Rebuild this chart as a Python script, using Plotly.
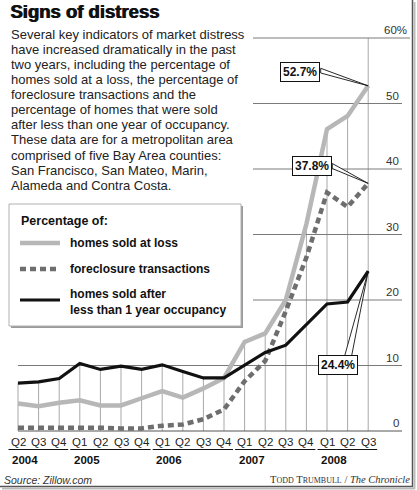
import plotly.graph_objects as go

# ---------------- data ----------------
quarters = ["Q2", "Q3", "Q4", "Q1", "Q2", "Q3", "Q4", "Q1", "Q2", "Q3", "Q4",
            "Q1", "Q2", "Q3", "Q4", "Q1", "Q2", "Q3"]
years = ["2004", "2005", "2006", "2007", "2008"]
year_start = [0, 3, 7, 11, 15]          # index of first quarter of each year
year_end = [2, 6, 10, 14, 17]

homes_sold_at_loss = [4.2, 3.8, 4.3, 4.7, 3.9, 3.9, 5.0, 6.1, 5.1, 6.5, 8.1,
                      13.6, 14.9, 20.0, 31.6, 46.1, 48.1, 52.7]
foreclosure_transactions = [0.5, 0.5, 0.6, 0.6, 0.5, 0.4, 0.4, 0.8, 1.0, 1.8, 3.3,
                            7.6, 10.7, 18.3, 26.5, 36.4, 34.2, 37.8]
sold_within_1yr = [7.3, 7.5, 8.0, 10.3, 9.4, 9.9, 9.4, 10.1, 9.1, 8.1, 8.1,
                   10.1, 12.0, 13.1, 16.2, 19.4, 19.7, 24.4]

y_ticks = [0, 10, 20, 30, 40, 50, 60]
y_tick_labels = ["0", "10", "20", "30", "40", "50", "60%"]

title = "Signs of distress"
body_lines = [
    "Several key indicators of market distress",
    "have increased dramatically in the past",
    "two years, including the percentage of",
    "homes sold at a loss, the percentage of",
    "foreclosure transactions and the",
    "percentage of homes that were sold",
    "after less than one year of occupancy.",
    "These data are for a metropolitan area",
    "comprised of five Bay Area counties:",
    "San Francisco, San Mateo, Marin,",
    "Alameda and Contra Costa.",
]
legend_title = "Percentage of:"
series_names = ["homes sold at loss", "foreclosure transactions",
                "homes sold after<br>less than 1 year occupancy"]

# ---------------- geometry (pixel <-> data) ----------------
W, H = 417, 490
X0, DX = 18.0, 20.6     # px of first quarter, px per quarter
Y0, DY = 431.0, 6.55    # px of 0%, px per 1%

def px2x(px):
    return (px - X0) / DX

def py2y(py):
    return (Y0 - py) / DY

def ppx(px):
    return px / W

def ppy(py):
    return 1 - py / H

xs = list(range(len(quarters)))
FONT = "Liberation Sans, Arial, Helvetica, sans-serif"

GRAY = "#b7b7b7"
DASH = "#6e6e6e"
BLACK = "#111111"

fig = go.Figure()

fig.add_trace(go.Scatter(x=xs, y=homes_sold_at_loss, mode="lines",
                         line=dict(color=GRAY, width=4.5), name=series_names[0],
                         hoverinfo="skip"))
fig.add_trace(go.Scatter(x=xs, y=foreclosure_transactions, mode="lines",
                         line=dict(color=DASH, width=4.5, dash="6px,4px"),
                         name=series_names[1], hoverinfo="skip"))
fig.add_trace(go.Scatter(x=xs, y=sold_within_1yr, mode="lines",
                         line=dict(color=BLACK, width=3.2), name=series_names[2],
                         hoverinfo="skip"))

shapes = []
annotations = []

# vertical gridlines: from 0 up to top data line (last one to the top tick)
for i in xs:
    top = max(homes_sold_at_loss[i], foreclosure_transactions[i], sold_within_1yr[i])
    if i == xs[-1]:
        top = y_ticks[-1]
    shapes.append(dict(type="line", xref="x", yref="y", x0=i, x1=i, y0=0, y1=top,
                       line=dict(color="#a8a8a8", width=1), layer="below"))

# horizontal gridlines
for v in y_ticks:
    left = px2x(18) if v <= 10 else px2x(253)
    right = px2x(410) if v == y_ticks[-1] else px2x(402)
    shapes.append(dict(type="line", xref="x", yref="y", x0=left, x1=right, y0=v, y1=v,
                       line=dict(color="#7a7a7a" if v else "#555555", width=1.2 if v == 0 else 1),
                       layer="below"))

# y tick labels (right side, above lines)
for v, lab in zip(y_ticks, y_tick_labels):
    annotations.append(dict(xref="paper", yref="y", x=ppx(409 if "%" in lab else 401),
                            y=v + 7.6 / DY, text=lab, showarrow=False, xanchor="right",
                            yanchor="middle",
                            font=dict(family=FONT, size=11.5, color="#333")))

# x tick labels
for i, q in enumerate(quarters):
    annotations.append(dict(xref="x", yref="paper", x=i, y=ppy(442), text=q,
                            showarrow=False, xanchor="center", yanchor="middle",
                            font=dict(family=FONT, size=11.5, color="#222")))

# year underline & labels
for yr, s, e in zip(years, year_start, year_end):
    shapes.append(dict(type="line", xref="x", yref="paper", x0=s - 9.5 / DX, x1=e + 9 / DX,
                       y0=ppy(449.5), y1=ppy(449.5), line=dict(color="#111", width=1)))
    annotations.append(dict(xref="x", yref="paper", x=s - 8 / DX, y=ppy(460), text=yr,
                            showarrow=False, xanchor="left", yanchor="middle",
                            font=dict(family=FONT, size=11.5, color="#111", weight="bold")))

# title and body text
annotations.append(dict(xref="paper", yref="paper", x=ppx(8), y=ppy(11), text=title,
                        showarrow=False, xanchor="left", yanchor="middle",
                        font=dict(family=FONT, size=18.5, color="#111", weight="bold",
                                  shadow="0.9px 0 0 #111")))
for k, line in enumerate(body_lines):
    annotations.append(dict(xref="paper", yref="paper", x=ppx(9), y=ppy(34.5 + 15.07 * k),
                            text=line, showarrow=False, xanchor="left", yanchor="middle",
                            font=dict(family=FONT, size=13, color="#222")))

# legend box with shadow
shapes.append(dict(type="rect", xref="paper", yref="paper", x0=ppx(11), x1=ppx(243),
                   y0=ppy(206), y1=ppy(328), fillcolor="#9a9a9a",
                   line=dict(width=0), layer="above"))
shapes.append(dict(type="rect", xref="paper", yref="paper", x0=ppx(9), x1=ppx(241),
                   y0=ppy(204), y1=ppy(326), fillcolor="white",
                   line=dict(color="#b0b0b0", width=1), layer="above"))
annotations.append(dict(xref="paper", yref="paper", x=ppx(19), y=ppy(221), text=legend_title,
                        showarrow=False, xanchor="left", yanchor="middle",
                        font=dict(family=FONT, size=12.5, color="#111", weight="bold")))
legend_styles = [dict(color=GRAY, width=4.5), dict(color=DASH, width=4.5, dash="6px,4px"),
                 dict(color=BLACK, width=3.2)]
legend_y = [243, 269, 300]
text_y = [243, 269, 301.5]
for name, st, ly, ty in zip(series_names, legend_styles, legend_y, text_y):
    shapes.append(dict(type="line", xref="paper", yref="paper", x0=ppx(20), x1=ppx(60),
                       y0=ppy(ly), y1=ppy(ly), line=st, layer="above"))
    annotations.append(dict(xref="paper", yref="paper", x=ppx(68), y=ppy(ty), text=name,
                            showarrow=False, xanchor="left", yanchor="middle", align="left",
                            font=dict(family=FONT, size=12, color="#111", weight="bold")))

# value call-outs with wedge leaders
last = xs[-1]
callouts = [
    (homes_sold_at_loss[last], (300, 72), [(320.7, 68.3), (320.7, 73.0)]),
    (foreclosure_transactions[last], (312, 166), [(332.3, 163.5), (332.3, 168.5)]),
    (sold_within_1yr[last], (338.3, 364.7), [(344.5, 356.5), (351.5, 356.5)]),
]
for val, (cx, cy), base in callouts:
    ax_, ay_ = last, val
    (b1x, b1y), (b2x, b2y) = base
    path = (f"M {px2x(b1x)} {py2y(b1y)} L {ax_} {ay_} L {px2x(b2x)} {py2y(b2y)} Z")
    shapes.append(dict(type="path", xref="x", yref="y", path=path, fillcolor="white",
                       line=dict(color="#111", width=0.9), layer="above"))
    annotations.append(dict(xref="paper", yref="paper", x=ppx(cx), y=ppy(cy),
                            text=f"{val:.1f}%", showarrow=False, xanchor="center",
                            yanchor="middle", bgcolor="white", bordercolor="#111",
                            borderwidth=1, borderpad=2,
                            font=dict(family=FONT, size=12, color="#111", weight="bold")))

# credits
annotations.append(dict(xref="paper", yref="paper", x=ppx(2), y=ppy(479.5),
                        text="<i>Source: Zillow.com</i>", showarrow=False, xanchor="left",
                        yanchor="middle", font=dict(family=FONT, size=10.5, color="#333")))
annotations.append(dict(xref="paper", yref="paper", x=ppx(412), y=ppy(479.5),
                        text="T<span style='font-size:8px'>ODD</span> T<span style='font-size:8px'>RUMBULL</span> / <i>The Chronicle</i>",
                        showarrow=False, xanchor="right", yanchor="middle",
                        font=dict(family="Liberation Serif, Times New Roman, serif", size=10.5,
                                  color="#333")))

# outer frame (right and bottom edges with shadow)
shapes.append(dict(type="line", xref="paper", yref="paper", x0=ppx(412.5), x1=ppx(412.5),
                   y0=ppy(0), y1=ppy(487), line=dict(color="#555", width=1.5)))
shapes.append(dict(type="line", xref="paper", yref="paper", x0=ppx(414.5), x1=ppx(414.5),
                   y0=ppy(2), y1=ppy(489), line=dict(color="#bbb", width=2)))
shapes.append(dict(type="line", xref="paper", yref="paper", x0=ppx(0), x1=ppx(413),
                   y0=ppy(486.5), y1=ppy(486.5), line=dict(color="#555", width=1.5)))
shapes.append(dict(type="line", xref="paper", yref="paper", x0=ppx(2), x1=ppx(415),
                   y0=ppy(488.5), y1=ppy(488.5), line=dict(color="#bbb", width=2)))

fig.update_layout(
    width=W, height=H,
    margin=dict(l=0, r=0, t=0, b=0, pad=0),
    paper_bgcolor="white", plot_bgcolor="white",
    showlegend=False,
    xaxis=dict(range=[px2x(0), px2x(W)], visible=False, fixedrange=True),
    yaxis=dict(range=[py2y(H), py2y(0)], visible=False, fixedrange=True),
    shapes=shapes, annotations=annotations,
)

# remove the browser's default 8px body margin so the figure fills the window exactly
fig.write_html("out.html", config={"displayModeBar": False},
               post_script="document.body.style.margin='0px';document.body.style.overflow='hidden';")
